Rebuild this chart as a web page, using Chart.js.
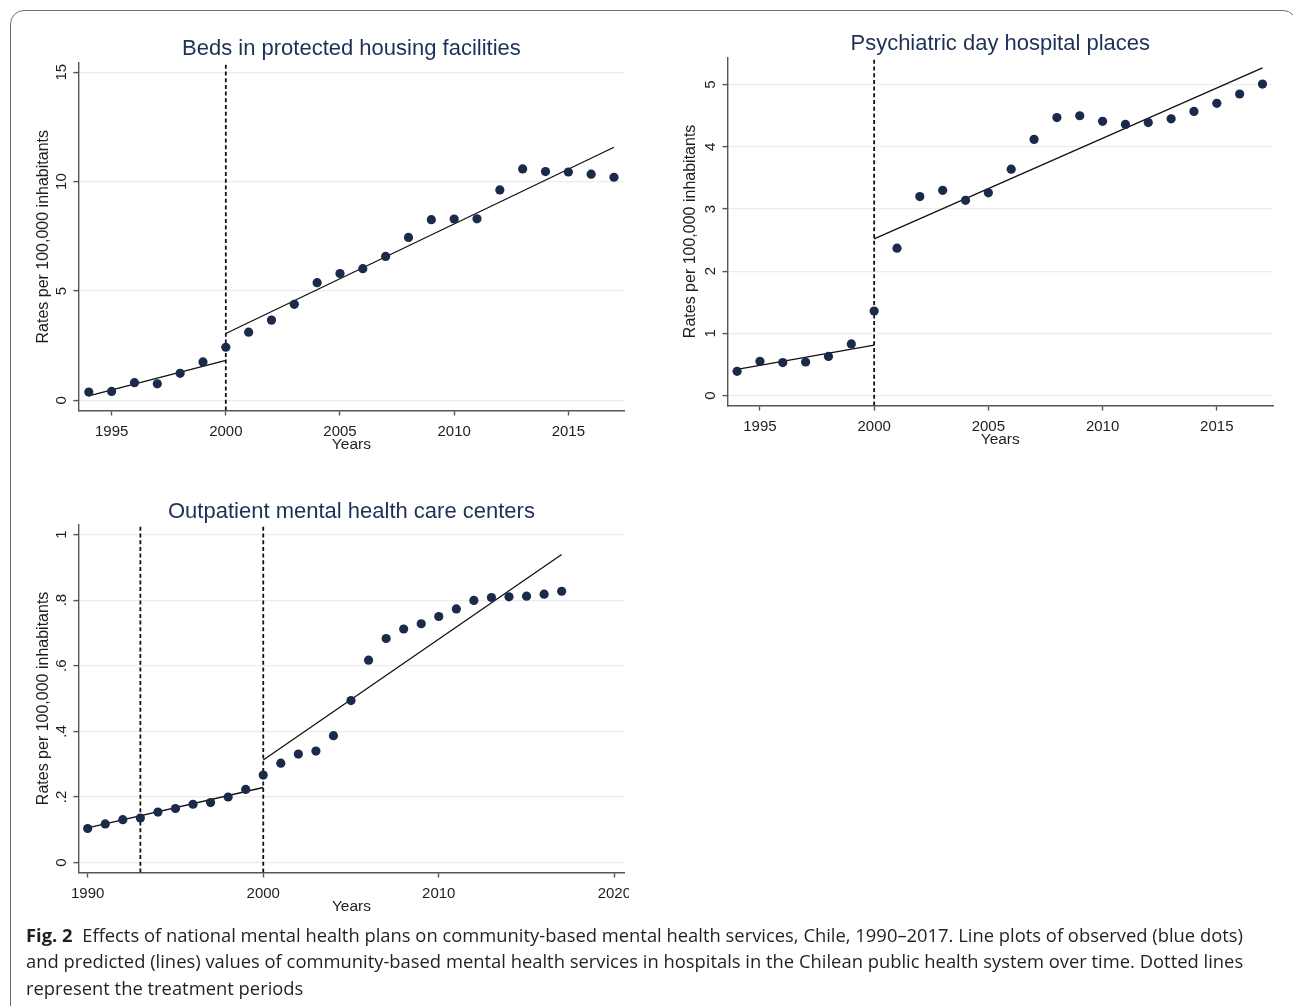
<!DOCTYPE html>
<html>
<head>
<meta charset="utf-8">
<title>Community-based mental health services, Chile</title>
<script src="https://cdn.jsdelivr.net/npm/chart.js@4.4.1/dist/chart.umd.min.js"></script>
<style>
  html, body { margin: 0; padding: 0; background: #fff; }
  body { width: 1293px; height: 1006px; position: relative; overflow: hidden; }
  #frame { position: absolute; left: 10px; top: 10px; width: 1287px; height: 1012px;
           border: 1.5px solid #707070; border-radius: 14px; box-sizing: border-box; }
  canvas { position: absolute; display: block; }
  #c1 { left: 0; top: 0; }
  #c2 { left: 640px; top: 0; }
  #clip3 { position: absolute; left: 0; top: 470px; width: 628.5px; height: 463px; overflow: hidden; }
  #c3 { left: 0; top: 0; }
  #caption { position: absolute; left: 26px; top: 921.5px; color: #231f20;
             font-family: "Open Sans", "Noto Sans", sans-serif; font-size: 18.5px; line-height: 26.5px;
             transform-origin: 0 0; }
  #caption div { white-space: nowrap; }
  #caption b { font-weight: 700; }
</style>
</head>
<body>
<div id="frame"></div>
<canvas id="c1" width="640" height="470"></canvas>
<canvas id="c2" width="653" height="465.5"></canvas>
<div id="clip3"><canvas id="c3" width="660" height="462"></canvas></div>
<div id="caption">
  <div id="capLine1"><b>Fig. 2</b>&nbsp; Effects of national mental health plans on community-based mental health services, Chile, 1990–2017. Line plots of observed (blue dots)</div>
  <div>and predicted (lines) values of community-based mental health services in hospitals in the Chilean public health system over time. Dotted lines</div>
  <div>represent the treatment periods</div>
</div>
<script>
// ---- Beds in protected housing facilities (per 100,000 inhabitants)
const bedsYears = [1994, 1995, 1996, 1997, 1998, 1999, 2000, 2001, 2002, 2003, 2004, 2005,
                   2006, 2007, 2008, 2009, 2010, 2011, 2012, 2013, 2014, 2015, 2016, 2017];
const bedsRates = [0.38, 0.41, 0.81, 0.76, 1.24, 1.76, 2.43, 3.12, 3.67, 4.39, 5.38, 5.80,
                   6.02, 6.58, 7.45, 8.26, 8.29, 8.30, 9.62, 10.58, 10.46, 10.44, 10.34, 10.20];
const bedsPreYears = [1994, 2000];
const bedsPreFit = [0.21, 1.83];
const bedsPostYears = [2000, 2017];
const bedsPostFit = [3.06, 11.57];
const bedsBreaks = [2000];
const bedsYTicks = [0, 5, 10, 15];
const bedsXTicks = [1995, 2000, 2005, 2010, 2015];

// ---- Psychiatric day hospital places (per 100,000 inhabitants)
const dayYears = [1994, 1995, 1996, 1997, 1998, 1999, 2000, 2001, 2002, 2003, 2004, 2005,
                  2006, 2007, 2008, 2009, 2010, 2011, 2012, 2013, 2014, 2015, 2016, 2017];
const dayRates = [0.39, 0.55, 0.53, 0.54, 0.63, 0.83, 1.36, 2.37, 3.20, 3.30, 3.14, 3.26,
                  3.64, 4.12, 4.47, 4.50, 4.41, 4.36, 4.39, 4.45, 4.57, 4.70, 4.85, 5.01];
const dayPreYears = [1994, 2000];
const dayPreFit = [0.42, 0.81];
const dayPostYears = [2000, 2017];
const dayPostFit = [2.52, 5.27];
const dayBreaks = [2000];
const dayYTicks = [0, 1, 2, 3, 4, 5];
const dayXTicks = [1995, 2000, 2005, 2010, 2015];

// ---- Outpatient mental health care centers (per 100,000 inhabitants)
const outYears = [1990, 1991, 1992, 1993, 1994, 1995, 1996, 1997, 1998, 1999, 2000, 2001, 2002, 2003,
                  2004, 2005, 2006, 2007, 2008, 2009, 2010, 2011, 2012, 2013, 2014, 2015, 2016, 2017];
const outRates = [0.104, 0.118, 0.131, 0.136, 0.154, 0.165, 0.178, 0.183, 0.200, 0.223, 0.267, 0.303, 0.331, 0.340,
                  0.387, 0.494, 0.617, 0.683, 0.712, 0.728, 0.750, 0.773, 0.799, 0.808, 0.810, 0.812, 0.818, 0.827];
const outPreYears = [1990, 2000];
const outPreFit = [0.106, 0.229];
const outPostYears = [2000, 2017];
const outPostFit = [0.313, 0.939];
const outBreaks = [1993, 2000];
const outYTicks = [0, 0.2, 0.4, 0.6, 0.8, 1];
const outXTicks = [1990, 2000, 2010, 2020];

const FONT = '"Liberation Sans", Arial, Helvetica, sans-serif';
const DOT_COLOR = '#1b2a4a';
const TITLE_COLOR = '#1d3157';
const TEXT_COLOR = '#1e1e1e';
const AXIS_COLOR = '#555555';
const GRID_COLOR = '#ececec';
const LINE_COLOR = '#111111';

const pts = (xs, ys) => xs.map((x, i) => ({ x: x, y: ys[i] }));
const plainNum = v => String(v);
const stataDecimal = v => String(v).replace(/^0\./, '.');

function drawPanel(canvasId, spec, g) {
  const datasets = [
    { data: pts(spec.years, spec.rates), showLine: false, pointRadius: 4.6,
      pointBackgroundColor: DOT_COLOR, pointBorderColor: DOT_COLOR, pointBorderWidth: 0 },
    { data: pts(spec.preYears, spec.preFit), showLine: true, pointRadius: 0,
      borderColor: LINE_COLOR, borderWidth: 1.3 },
    { data: pts(spec.postYears, spec.postFit), showLine: true, pointRadius: 0,
      borderColor: LINE_COLOR, borderWidth: 1.3 }
  ];
  // dotted verticals marking the start of each treatment period
  spec.breaks.forEach(b => datasets.push({
    data: [{ x: b, y: spec.yMin }, { x: b, y: spec.yMax }], showLine: true, pointRadius: 0,
    borderColor: LINE_COLOR, borderWidth: 1.8, borderDash: [4, 2.7]
  }));

  return new Chart(document.getElementById(canvasId), {
    type: 'scatter',
    data: { datasets: datasets },
    options: {
      responsive: false,
      animation: false,
      events: [],
      layout: { padding: { left: 0, top: 0, right: g.padRight, bottom: 0 } },
      plugins: {
        legend: { display: false },
        tooltip: { enabled: false },
        title: {
          display: true, text: spec.title, fullSize: false, color: TITLE_COLOR,
          font: { family: FONT, size: 22, weight: 'normal', lineHeight: 1.1 },
          padding: { top: g.titleTop, bottom: g.titleBottom }
        }
      },
      scales: {
        x: {
          type: 'linear', min: spec.xMin, max: spec.xMax,
          afterBuildTicks: s => { s.ticks = spec.xTicks.map(v => ({ value: v })); },
          afterFit: s => { s.height = 59.5; },
          grid: { display: true, drawOnChartArea: false, drawTicks: true, tickLength: 5,
                  tickColor: AXIS_COLOR, tickWidth: 1.4 },
          border: { display: true, color: AXIS_COLOR, width: 1.4 },
          ticks: { color: TEXT_COLOR, font: { family: FONT, size: 15 }, padding: 7,
                   minRotation: 0, maxRotation: 0, autoSkip: false, callback: plainNum },
          title: { display: true, text: 'Years', color: TEXT_COLOR,
                   font: { family: FONT, size: 15.5 }, padding: { top: 0, bottom: 15.5 } }
        },
        y: {
          type: 'linear', min: spec.yMin, max: spec.yMax,
          afterBuildTicks: s => { s.ticks = spec.yTicks.map(v => ({ value: v })); },
          afterFit: s => { s.width = g.yAxisWidth; },
          grid: { color: GRID_COLOR, lineWidth: 1.2, drawTicks: true, tickLength: 5,
                  tickColor: AXIS_COLOR, tickWidth: 1.4 },
          border: { display: true, color: AXIS_COLOR, width: 1.4 },
          ticks: { color: TEXT_COLOR, font: { family: FONT, size: 15 }, padding: g.yTickPad,
                   minRotation: 90, maxRotation: 90, crossAlign: 'center', autoSkip: false,
                   callback: spec.yFormat },
          title: { display: true, text: 'Rates per 100,000 inhabitants', color: TEXT_COLOR,
                   font: { family: FONT, size: 16 }, padding: { top: g.yTitlePad, bottom: 0 } }
        }
      }
    }
  });
}

drawPanel('c1', {
  title: 'Beds in protected housing facilities',
  years: bedsYears, rates: bedsRates,
  preYears: bedsPreYears, preFit: bedsPreFit, postYears: bedsPostYears, postFit: bedsPostFit,
  breaks: bedsBreaks, xTicks: bedsXTicks, yTicks: bedsYTicks, yFormat: plainNum,
  xMin: 1993.54, xMax: 2017.46, yMin: -0.46, yMax: 15.42
}, { padRight: 15.5, titleTop: 37, titleBottom: 1.8, yAxisWidth: 78.3, yTickPad: 2.9, yTitlePad: 34 });

drawPanel('c2', {
  title: 'Psychiatric day hospital places',
  years: dayYears, rates: dayRates,
  preYears: dayPreYears, preFit: dayPreFit, postYears: dayPostYears, postFit: dayPostFit,
  breaks: dayBreaks, xTicks: dayXTicks, yTicks: dayYTicks, yFormat: plainNum,
  xMin: 1993.58, xMax: 2017.46, yMin: -0.16, yMax: 5.44
}, { padRight: 20, titleTop: 31.8, titleBottom: 1.3, yAxisWidth: 87.5, yTickPad: 7, yTitlePad: 41.4 });

drawPanel('c3', {
  title: 'Outpatient mental health care centers',
  years: outYears, rates: outRates,
  preYears: outPreYears, preFit: outPreFit, postYears: outPostYears, postFit: outPostFit,
  breaks: outBreaks, xTicks: outXTicks, yTicks: outYTicks, yFormat: stataDecimal,
  xMin: 1989.47, xMax: 2020.58, yMin: -0.03, yMax: 1.031
}, { padRight: 35.5, titleTop: 30.1, titleBottom: 0, yAxisWidth: 78.4, yTickPad: 4.9, yTitlePad: 34 });

// caption set in a condensed measure: first line spans the text column
(function fitCaption() {
  const cap = document.getElementById('caption');
  const w = document.getElementById('capLine1').scrollWidth;
  cap.style.transform = 'scaleX(' + (1217 / w) + ')';
})();
</script>
</body>
</html>
